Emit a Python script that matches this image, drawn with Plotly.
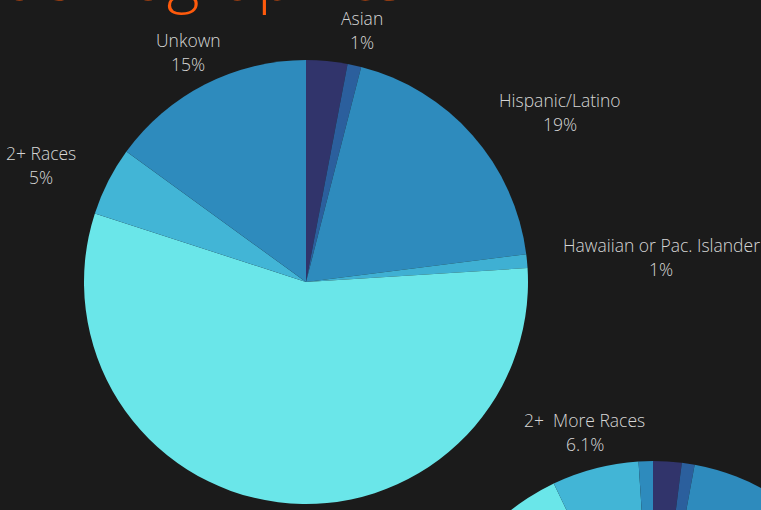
import plotly.graph_objects as go

# ---- data ----
categories = ["Black", "Asian", "Hispanic/Latino", "Hawaiian or Pac. Islander",
              "White", "2+ Races", "Unkown"]
main_values = [3, 1, 19, 1, 56, 5, 15]
main_label_names = ["", "Asian", "Hispanic/Latino", "Hawaiian or Pac. Islander",
                    "", "2+ Races", "Unkown"]
second_values = [2.0, 0.9, 24.0, 0.2, 65.8, 6.1, 1.0]
second_label_names = ["", "", "", "", "", "2+  More Races", ""]
title_text = "demographics"

# ---- styling ----
slice_colors = ["#31346b", "#2b5f9d", "#2e8bbd", "#3fb0d3", "#6ae6e9", "#42b5d6", "#2e8bbd"]
bg = "#1b1b1b"
text_color = "#d6d6d6"
FONT = "Open Sans"
W, H = 900, 930

def fx(px):
    return px / W

def fy(py):
    return 1 - py / H

# label positions (pixel centres of the name line)
main_label_pos = {1: (362, 18), 2: (560, 100), 3: (661, 245), 5: (40.5, 153), 6: (188, 40)}
second_label_pos = {5: (584.5, 420)}
line_gap = 24.2

fig = go.Figure()
fig.add_trace(go.Pie(
    labels=categories, values=main_values, sort=False, direction="clockwise",
    rotation=0, textinfo="none", hoverinfo="label+percent",
    marker=dict(colors=slice_colors, line=dict(width=0)),
    domain=dict(x=[fx(84), fx(528)], y=[fy(504), fy(60)]),
    showlegend=False,
))
fig.add_trace(go.Pie(
    labels=categories, values=second_values, sort=False, direction="clockwise",
    rotation=0, textinfo="none", hoverinfo="label+percent",
    marker=dict(colors=slice_colors, line=dict(width=0)),
    domain=dict(x=[fx(423), fx(883)], y=[fy(921), fy(461)]),
    showlegend=False,
))

annotations = []
def add_label(name, val, pos):
    x, y = pos
    annotations.append(dict(text=name, x=fx(x), y=fy(y), xref="paper", yref="paper",
                            xanchor="center", yanchor="middle", showarrow=False,
                            font=dict(family=FONT, size=17.5, color=text_color, weight=300)))
    annotations.append(dict(text=f"{val:g}%", x=fx(x), y=fy(y + line_gap), xref="paper", yref="paper",
                            xanchor="center", yanchor="middle", showarrow=False,
                            font=dict(family=FONT, size=17.5, color=text_color, weight=300)))

for i, pos in main_label_pos.items():
    add_label(main_label_names[i], main_values[i], pos)
for i, pos in second_label_pos.items():
    add_label(second_label_names[i], second_values[i], pos)

annotations.append(dict(text=title_text, x=fx(0), y=fy(-25), xref="paper", yref="paper",
                        xanchor="left", yanchor="middle", showarrow=False,
                        font=dict(family=FONT, size=63, color="#fe5a0c", weight=300)))

fig.update_layout(
    width=W, height=H,
    margin=dict(l=0, r=0, t=0, b=0),
    paper_bgcolor=bg, plot_bgcolor=bg,
    annotations=annotations,
)

fig.write_html("out.html", config={"displayModeBar": False},
               post_script="document.body.style.margin='0';document.body.style.overflow='hidden';document.body.style.background='#1b1b1b';")
